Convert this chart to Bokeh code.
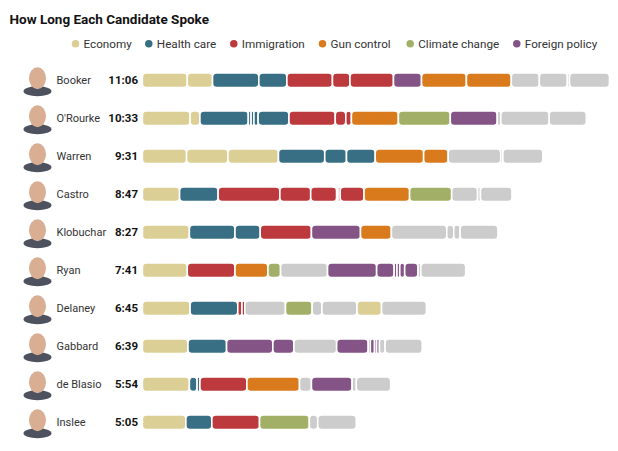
from bokeh.plotting import figure
from bokeh.models import Range1d, ColumnDataSource
from bokeh.core.properties import value
from bokeh.embed import file_html
from bokeh.resources import INLINE

# candidates, top to bottom, with their total speaking time
candidates = ["Booker", "O'Rourke", "Warren", "Castro", "Klobuchar",
              "Ryan", "Delaney", "Gabbard", "de Blasio", "Inslee"]
totals = ["11:06", "10:33", "9:31", "8:47", "8:27",
          "7:41", "6:45", "6:39", "5:54", "5:05"]

# topics
topic_codes = ["E", "H", "I", "G", "C", "F", "O"]
topic_names = ["Economy", "Health care", "Immigration", "Gun control",
               "Climate change", "Foreign policy", "Other"]
topic_colors = ["#dbcf96", "#386f84", "#bc3a3d", "#d97b1d",
                "#a1b066", "#845487", "#cccccc"]

# each speaking turn: length in seconds and topic code
booker_sec = [64, 36, 66, 40, 65, 25, 62, 40, 64, 64, 40, 40, 3, 57]
booker_top = ["E", "E", "H", "H", "I", "I", "I", "F", "G", "G", "O", "O", "O", "O"]

orourke_sec = [68, 14, 69, 4, 4, 6, 44, 66, 15, 8, 67, 74, 67, 5, 69, 53]
orourke_top = ["E", "E", "H", "H", "H", "H", "H", "I", "I", "I", "G", "C", "F", "O", "O", "O"]

warren_sec = [63, 59, 72, 66, 31, 41, 69, 35, 75, 3, 57]
warren_top = ["E", "E", "E", "H", "H", "H", "G", "G", "O", "O", "O"]

castro_sec = [53, 55, 88, 44, 37, 2, 3, 34, 65, 60, 37, 4, 45]
castro_top = ["E", "H", "I", "I", "I", "I", "I", "I", "G", "C", "O", "O", "O"]

klobuchar_sec = [67, 65, 36, 73, 70, 44, 79, 10, 9, 54]
klobuchar_top = ["E", "H", "H", "I", "F", "G", "O", "O", "O", "O"]

ryan_sec = [64, 68, 47, 18, 67, 70, 25, 4, 4, 7, 19, 4, 64]
ryan_top = ["E", "I", "G", "C", "O", "F", "F", "F", "F", "F", "F", "O", "O"]

delaney_sec = [68, 68, 6, 4, 58, 38, 14, 50, 35, 64]
delaney_top = ["E", "H", "I", "I", "O", "C", "O", "O", "E", "O"]

gabbard_sec = [65, 55, 66, 30, 61, 45, 3, 6, 3, 4, 8, 53]
gabbard_top = ["E", "H", "F", "F", "O", "F", "F", "F", "F", "F", "O", "O"]

deblasio_sec = [67, 11, 4, 67, 75, 17, 58, 6, 49]
deblasio_top = ["E", "H", "H", "I", "G", "O", "F", "O", "O"]

inslee_sec = [62, 37, 68, 71, 12, 55]
inslee_top = ["E", "H", "I", "C", "O", "O"]

turns = [(booker_sec, booker_top), (orourke_sec, orourke_top),
         (warren_sec, warren_top), (castro_sec, castro_top),
         (klobuchar_sec, klobuchar_top), (ryan_sec, ryan_top),
         (delaney_sec, delaney_top), (gabbard_sec, gabbard_top),
         (deblasio_sec, deblasio_top), (inslee_sec, inslee_top)]

FONT = "Roboto"
W, H = 618, 451
K = 0.7013        # pixels per second
X0 = 141.9        # where second 0 sits, in pixels
ROW0, ROWH = 79.7, 38.0


def ax(px):
    # pixel -> seconds
    return (px - X0) / K


def ay(py):
    # pixel -> row units
    return (py - ROW0) / ROWH


p = figure(width=W, height=H, output_backend="svg", toolbar_location=None,
           x_range=Range1d(-X0 / K, (W - X0) / K),
           y_range=Range1d((H - ROW0) / ROWH, -ROW0 / ROWH),
           x_axis_type=None, y_axis_type=None, min_border=0)
p.grid.visible = False
p.outline_line_color = None

color_of = dict(zip(topic_codes, topic_colors))
ys, lefts, rights, cols = [], [], [], []
for i, (secs, tops) in enumerate(turns):
    t = 0
    for s, c in zip(secs, tops):
        ys.append(i)
        lefts.append(t)
        rights.append(t + s)
        cols.append(color_of[c])
        t += s

src = ColumnDataSource(dict(y=ys, left=lefts, right=rights, color=cols))
p.hbar(y="y", left="left", right="right", height=14.6 / ROWH, source=src,
       fill_color="color", line_color="white", line_width=1.6,
       border_radius=4)

rows = list(range(len(candidates)))

# portrait placeholders
p.ellipse(x=[ax(37)] * len(rows), y=[r + 11 / ROWH for r in rows],
          width=28, height=10, width_units="screen", height_units="screen",
          fill_color="#4d525e", line_color=None)
p.ellipse(x=[ax(37)] * len(rows), y=[r - 2 / ROWH for r in rows],
          width=17, height=22, width_units="screen", height_units="screen",
          fill_color="#d9ae93", line_color=None)

p.text(x=[ax(56)] * len(rows), y=rows, text=candidates,
       text_font=value(FONT), text_font_size="11px", text_color="#333333",
       text_baseline="middle", text_align="left")
p.text(x=[ax(137.5)] * len(rows), y=rows, text=totals,
       text_font=value(FONT), text_font_size="11.5px", text_font_style="bold",
       text_color="#121212", text_baseline="middle", text_align="right")

# title
p.text(x=[ax(9)], y=[ay(18.5)], text=["How Long Each Candidate Spoke"],
       text_font=value(FONT), text_font_size="13.5px", text_font_style="bold",
       text_color="#121212", text_baseline="middle", text_align="left")

# legend
leg_x = [75, 148.3, 233.3, 322, 409.7, 516.3]
p.scatter(x=[ax(v) for v in leg_x], y=[ay(43.3)] * 6, size=7.5,
          color=topic_colors[:6], line_color=None)
p.text(x=[ax(v + 8) for v in leg_x], y=[ay(43.3)] * 6, text=topic_names[:6],
       text_font=value(FONT), text_font_size="11.7px", text_color="#333333",
       text_baseline="middle", text_align="left")

open("out.html", "w").write(file_html(p, INLINE))
